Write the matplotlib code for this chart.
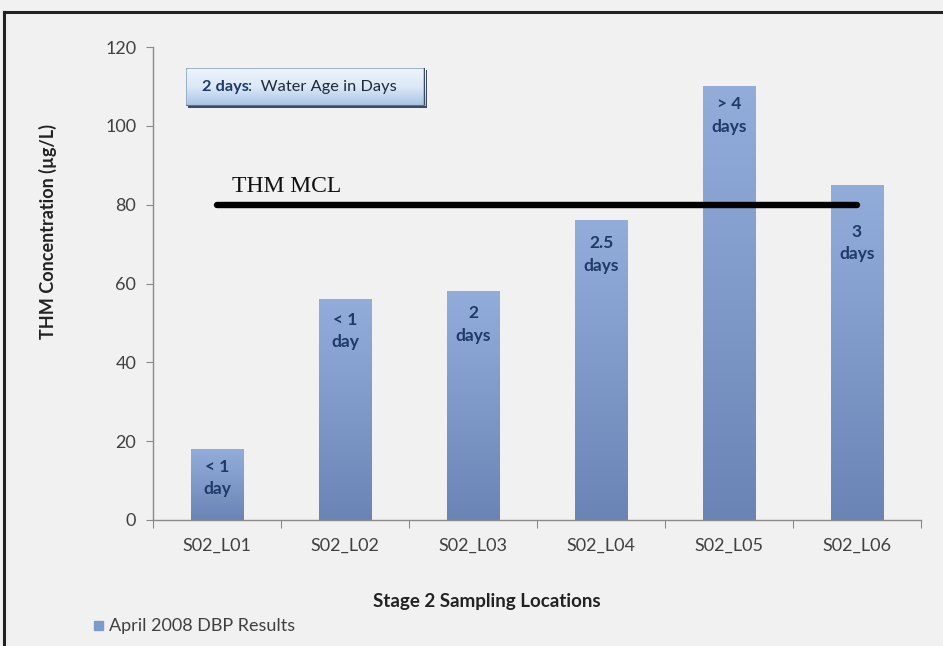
import matplotlib
matplotlib.use("Agg")
import matplotlib.pyplot as plt
import numpy as np
from matplotlib.colors import LinearSegmentedColormap
from matplotlib.patches import FancyBboxPatch, Rectangle
from matplotlib.lines import Line2D

locations = ["S02_L01", "S02_L02", "S02_L03", "S02_L04", "S02_L05", "S02_L06"]
thm_values = [18, 56, 58, 76, 110, 85]
water_age = ["< 1\nday", "< 1\nday", "2\ndays", "2.5\ndays", "> 4\ndays", "3\ndays"]
mcl_value = 80

# how far (pt) each age label sits below its bar top
label_drop = [7, 9, 10, 10.5, 7, 28]

bg = "#f1f1f1"
txt = "#404040"
navy = "#1f3a66"
plt.rcParams["font.family"] = ["Lato", "DejaVu Sans"]

fig = plt.figure(figsize=(9.43, 6.46), dpi=100, facecolor=bg)
ax = fig.add_axes([153/943, 1-520/646, 768/943, 473/646])
ax.set_facecolor(bg)

x = np.arange(len(locations))
bars = ax.bar(x, thm_values, width=0.41, color="#7f9ac9", zorder=2)

# vertical gradient on each bar, lighter at the top
bar_cmap = LinearSegmentedColormap.from_list("barfade", ["#6a85b5", "#93addb"])
grad = np.linspace(0, 1, 256).reshape(-1, 1)
for b in bars:
    x0, w, h = b.get_x(), b.get_width(), b.get_height()
    im = ax.imshow(grad, cmap=bar_cmap, origin="lower", aspect="auto",
                   extent=(x0, x0 + w, 0, h), zorder=2)
    im.set_clip_path(b)

for i, v in enumerate(thm_values):
    ax.annotate(water_age[i], xy=(x[i], v), xytext=(0, -label_drop[i]),
                textcoords="offset points", ha="center", va="top",
                fontsize=12.5, fontweight="bold", color=navy,
                linespacing=1.5, zorder=4)

# MCL reference line
ax.plot([x[0], x[-1]], [mcl_value, mcl_value], color="black", lw=4.6,
        solid_capstyle="round", zorder=3)
ax.text(0.12, mcl_value + 1.9, "THM MCL", fontsize=17, family="Liberation Serif",
        color="#111111", ha="left", va="bottom", zorder=4)

ax.set_xlim(-0.5, len(locations) - 0.5)
ax.set_ylim(0, 120)
ax.set_yticks(range(0, 121, 20))
ax.set_xticks(np.arange(-0.5, len(locations), 1.0))
ax.set_xticklabels([])
ax.set_xticks(x, minor=True)
ax.set_xticklabels(locations, minor=True)
ax.tick_params(axis="x", which="major", length=6, color="#8a8a8a", direction="out")
ax.tick_params(axis="x", which="minor", length=0, pad=13, labelsize=13, labelcolor=txt)
ax.tick_params(axis="y", length=5, color="#8a8a8a", labelsize=13, labelcolor=txt, pad=7)
for s in ("top", "right"):
    ax.spines[s].set_visible(False)
for s in ("left", "bottom"):
    ax.spines[s].set_color("#8a8a8a")
    ax.spines[s].set_linewidth(1.0)

fig.text(48/943, 1-232/646, "THM Concentration (\u00b5g/L)", fontsize=13,
         fontweight="bold", color="#222222", rotation=90, ha="center", va="center")
fig.text(487/943, 1-601/646, "Stage 2 Sampling Locations", fontsize=13.5,
         fontweight="bold", color="#222222", ha="center", va="center")

# legend entry
fig.patches.append(Rectangle((94/943, 1-630/646), 9/943, 9/646,
                             transform=fig.transFigure, color="#7f9ac9"))
fig.text(109/943, 1-626/646, "April 2008 DBP Results", fontsize=13, color=txt,
         ha="left", va="center")

# beveled key box
bx0, by0, bw, bh = 186/943, 1-106/646, 239/943, 38/646
shadow = FancyBboxPatch((bx0 + 2/943, by0 - 2/646), bw, bh, boxstyle="square,pad=0",
                        transform=fig.transFigure, facecolor="#3c4a63",
                        edgecolor="none", zorder=5)
fig.patches.append(shadow)
kax = fig.add_axes([bx0, by0, bw, bh], zorder=7)
kax.axis("off")
key_cmap = LinearSegmentedColormap.from_list("keyfade", ["#a9c3e3", "#dbe8f7", "#eef4fb"])
kax.imshow(np.linspace(0, 1, 64).reshape(-1, 1), cmap=key_cmap, origin="lower",
           aspect="auto", extent=(0, 1, 0, 1))
kax.set_xlim(0, 1)
kax.set_ylim(0, 1)
kax.add_patch(Rectangle((0, 0), 1, 1, fill=False, edgecolor="#8ea6c8", lw=1.2))
kax.plot([1, 1], [0, 1], color="#3c4a63", lw=2.5)
kax.plot([0, 1], [0, 0], color="#5d6f8d", lw=1.5)
k1 = kax.text(0.065, 0.5, "2 days", fontsize=11.8, fontweight="bold", color=navy,
              ha="left", va="center")
kax.annotate(":  Water Age in Days", xycoords=k1, xy=(1, 0.5), va="center",
             ha="left", fontsize=11.8, color="#1e2a3a")

# outer frame (top and left edges)
fig.add_artist(Line2D([4/943, 1], [1-12/646, 1-12/646], transform=fig.transFigure,
                      color="#222222", lw=2.2))
fig.add_artist(Line2D([4/943, 4/943], [0, 1-12/646], transform=fig.transFigure,
                      color="#222222", lw=2.2))

fig.savefig("out.png", dpi=100, facecolor=bg)
